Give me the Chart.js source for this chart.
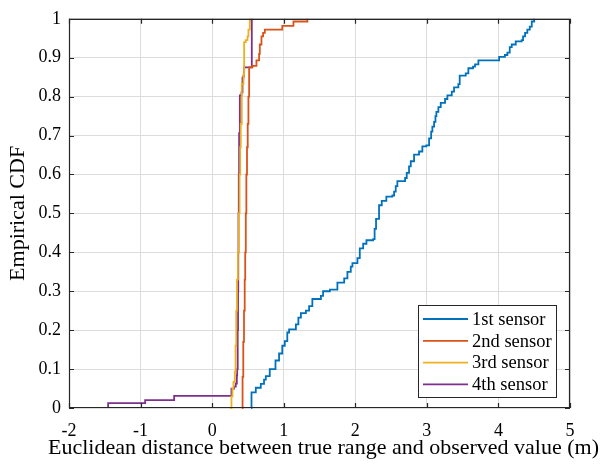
<!DOCTYPE html>
<html>
<head>
<meta charset="utf-8">
<script src="https://cdn.jsdelivr.net/npm/chart.js@4.4.1/dist/chart.umd.min.js"></script>
<style>
html,body{margin:0;padding:0;background:#fff;}
#wrap{width:611px;height:466px;}
</style>
</head>
<body>
<div id="wrap"><canvas id="c" width="611" height="466"></canvas></div>
<script>
// ---- data ----
const seriesNames = ["1st sensor", "2nd sensor", "3rd sensor", "4th sensor"];
const seriesColors = ["#0072BD", "#D95319", "#EDB120", "#7E2F8E"];

const s1x = [0.545,0.55,0.61,0.68,0.725,0.75,0.805,0.885,0.935,0.98,1.015,1.05,1.075,1.17,1.205,1.24,1.31,1.355,1.40,1.52,1.55,1.645,1.75,1.845,1.89,1.937,1.96,2.03,2.063,2.11,2.156,2.25,2.27,2.29,2.332,2.37,2.434,2.518,2.542,2.565,2.588,2.696,2.719,2.751,2.775,2.821,2.891,2.937,2.993,3.031,3.06,3.077,3.101,3.12,3.133,3.161,3.194,3.254,3.287,3.348,3.38,3.44,3.459,3.543,3.58,3.645,3.673,3.72,4.01,4.09,4.125,4.158,4.186,4.242,4.325,4.344,4.372,4.404,4.438,4.466,4.5];
const s1y = [0,0.04,0.052,0.062,0.073,0.082,0.1,0.122,0.14,0.16,0.172,0.194,0.202,0.215,0.232,0.244,0.25,0.262,0.28,0.288,0.3,0.304,0.322,0.333,0.35,0.363,0.372,0.385,0.41,0.422,0.431,0.434,0.46,0.486,0.521,0.532,0.543,0.546,0.556,0.57,0.583,0.591,0.604,0.621,0.634,0.651,0.659,0.672,0.675,0.693,0.71,0.723,0.735,0.75,0.761,0.773,0.784,0.794,0.803,0.813,0.824,0.832,0.854,0.86,0.873,0.877,0.883,0.893,0.902,0.907,0.913,0.927,0.934,0.942,0.945,0.955,0.964,0.972,0.98,0.993,1.0];

const s2x = [0.415,0.425,0.435,0.445,0.455,0.462,0.47,0.478,0.487,0.497,0.507,0.517,0.563,0.619,0.656,0.666,0.689,0.712,0.736,0.98,1.136,1.331];
const s2y = [0,0.08,0.17,0.25,0.33,0.4,0.5,0.6,0.67,0.73,0.8,0.875,0.879,0.893,0.91,0.934,0.955,0.964,0.972,0.982,0.993,1.0];

const s3x = [0.25,0.27,0.284,0.298,0.317,0.327,0.337,0.347,0.36,0.372,0.383,0.392,0.40,0.414,0.438,0.447,0.47,0.494,0.507,0.526,0.53];
const s3y = [0,0.03,0.05,0.067,0.093,0.16,0.25,0.33,0.4,0.5,0.6,0.67,0.73,0.832,0.856,0.94,0.945,0.955,0.972,0.995,1.0];

const s4x = [-1.453,-1.453,-0.936,-0.531,0.27,0.307,0.33,0.345,0.35,0.357,0.362,0.365,0.368,0.372,0.377,0.387,0.41,0.424,0.438,0.447,0.554];
const s4y = [0,0.0125,0.02,0.031,0.05,0.055,0.063,0.084,0.1,0.2,0.3,0.4,0.5,0.6,0.706,0.803,0.811,0.849,0.854,0.875,1.0];

const xTickLabels = ["-2","-1","0","1","2","3","4","5"];
const yTickLabels = ["0","0.1","0.2","0.3","0.4","0.5","0.6","0.7","0.8","0.9","1"];
const xTitle = "Euclidean distance between true range and observed value (m)";
const yTitle = "Empirical CDF";

const allX = [s1x, s2x, s3x, s4x];
const allY = [s1y, s2y, s3y, s4y];

const FONT = "'Liberation Serif','Times New Roman',serif";

const datasets = allX.map((xs, i) => ({
  label: seriesNames[i],
  data: xs.map((x, j) => ({x: x, y: allY[i][j]})),
  borderColor: seriesColors[i],
  backgroundColor: seriesColors[i],
  borderWidth: 1.8,
  pointRadius: 0,
  showLine: true,
  stepped: 'before',
  fill: false,
  clip: false
}));

const boxPlugin = {
  id: 'boxPlugin',
  afterDatasetsDraw(chart) {
    const ctx = chart.ctx, a = chart.chartArea;
    const xs = chart.scales.x, ys = chart.scales.y;
    ctx.save();
    ctx.strokeStyle = '#262626';
    ctx.lineWidth = 1.2;
    ctx.beginPath();
    ctx.rect(a.left + 0.5, a.top + 0.5, a.right - a.left - 1, a.bottom - a.top - 1);
    ctx.stroke();
    const tl = 5;
    ctx.beginPath();
    xs.ticks.forEach(t => {
      const px = Math.round(xs.getPixelForValue(t.value)) + 0.5;
      ctx.moveTo(px, a.bottom); ctx.lineTo(px, a.bottom - tl);
      ctx.moveTo(px, a.top); ctx.lineTo(px, a.top + tl);
    });
    ys.ticks.forEach(t => {
      const py = Math.round(ys.getPixelForValue(t.value)) + 0.5;
      ctx.moveTo(a.left, py); ctx.lineTo(a.left + tl, py);
      ctx.moveTo(a.right, py); ctx.lineTo(a.right - tl, py);
    });
    ctx.stroke();
    ctx.restore();
  },
  afterDraw(chart) {
    const ctx = chart.ctx, a = chart.chartArea;
    ctx.save();
    // x-axis title (drawn unsqueezed)
    ctx.font = "22px " + FONT;
    ctx.fillStyle = '#000';
    ctx.textAlign = 'center';
    ctx.textBaseline = 'middle';
    ctx.fillText(xTitle, (a.left + a.right) / 2 + 4, 448);
    // legend
    const bx = 418.5, by = 305.5, bw = 138, bh = 92;
    ctx.fillStyle = '#fff';
    ctx.fillRect(bx, by, bw, bh);
    ctx.strokeStyle = '#262626';
    ctx.lineWidth = 1;
    ctx.strokeRect(bx, by, bw, bh);
    ctx.font = "18.5px " + FONT;
    ctx.textBaseline = 'middle';
    ctx.textAlign = 'left';
    chart.data.datasets.forEach((ds, i) => {
      const yy = 319 + i * 21.8;
      ctx.strokeStyle = ds.borderColor;
      ctx.lineWidth = 1.8;
      ctx.beginPath();
      ctx.moveTo(423, yy); ctx.lineTo(468, yy);
      ctx.stroke();
      ctx.fillStyle = '#000';
      ctx.fillText(ds.label, 472, yy + 1);
    });
    ctx.restore();
  }
};

new Chart(document.getElementById('c'), {
  type: 'scatter',
  data: { datasets },
  options: {
    responsive: false,
    animation: false,
    devicePixelRatio: 1,
    layout: { padding: { top: 14, right: 41, left: 0, bottom: 0 } },
    plugins: { legend: { display: false }, tooltip: { enabled: false } },
    scales: {
      x: {
        type: 'linear', min: -2, max: 5,
        afterFit(s) { s.height = 58; },
        ticks: {
          stepSize: 1, padding: 12, color: '#000',
          font: { family: FONT, size: 18 },
          callback: (v, i) => xTickLabels[i]
        },
        grid: { color: '#dcdcdc', lineWidth: 1, drawTicks: false },
        border: { display: false },
        title: { display: false }
      },
      y: {
        type: 'linear', min: 0, max: 1,
        afterFit(s) { s.width = 69; },
        ticks: {
          stepSize: 0.1, padding: 8, color: '#000',
          font: { family: FONT, size: 18 },
          callback: (v, i) => yTickLabels[i]
        },
        grid: { color: '#dcdcdc', lineWidth: 1, drawTicks: false },
        border: { display: false },
        title: { display: true, text: yTitle, color: '#000',
                 font: { family: FONT, size: 22 }, padding: { top: 5, bottom: 0 } }
      }
    }
  },
  plugins: [boxPlugin]
});
</script>
</body>
</html>
